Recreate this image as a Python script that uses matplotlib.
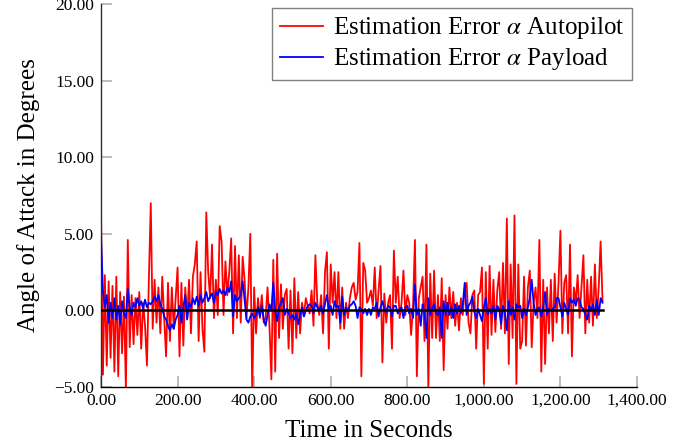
import numpy as np
import matplotlib
matplotlib.use("Agg")
import matplotlib.pyplot as plt
from matplotlib.ticker import FuncFormatter

plt.rcParams['font.family'] = ['Liberation Serif', 'DejaVu Serif']
plt.rcParams['mathtext.fontset'] = 'stix'

step = 5
autopilot_err = [
    # 0-95
    6.4, -4.2, 2.3, -3.6, 1.9, -3.1, 1.6, -4.0, 2.2, -4.3, 1.2, -2.8, 0.9, -5.2, 4.6, -2.4, 1.0, -2.2, 0.8, -1.6,
    # 100-195
    1.2, -2.5, 0.5, -1.0, -3.6, 2.0, 7.0, -1.2, 2.0, -0.8, 1.5, -1.5, 2.2, -0.5, -3.0, 1.8, -2.0, 1.5, -1.2, 0.8,
    # 200-295
    2.8, -3.0, 1.8, -2.3, 1.5, -0.5, 2.0, -1.5, 2.2, 3.0, 4.5, -2.0, 2.5, -1.2, -2.7, 6.4, 2.5, 0.8, 4.3, -0.5,
    # 300-395
    2.0, -0.3, 5.5, 4.5, -0.3, 3.2, 1.0, 2.5, 4.7, -1.5, 4.2, -0.5, 3.6, -0.8, 3.5, 2.0, -0.5, 1.5, 5.0, -5.3,
    # 400-495
    1.5, -1.5, 0.8, -0.5, 1.0, -0.8, -0.5, 1.5, -1.0, -4.5, 3.3, -4.0, 3.7, -1.8, 1.7, -1.2, 1.0, 1.4, -2.5, 1.3,
    # 500-595
    -2.8, 2.1, -1.8, 1.2, -1.5, 0.5, -0.3, 0.8, 0.3, -0.2, 1.3, -1.0, 3.6, 0.5, -0.3, 1.0, -1.5, 2.5, 3.8, -2.5,
    # 600-695
    3.0, 0.5, 2.5, -0.5, 2.5, -1.2, 1.5, -1.2, 0.5, -0.5, 0.8, 1.5, 1.8, 0.7, 1.2, 4.4, -4.3, 3.1, 2.6, 0.5,
    # 700-795
    0.8, 1.3, 0.3, 2.8, -0.5, 1.3, 2.9, -3.4, 1.1, -0.8, 0.5, 1.0, -2.5, 3.9, 0.5, 2.2, -0.5, 0.5, 2.6, -0.3,
    # 800-895
    1.0, 0.5, -1.6, 0.3, 4.6, -4.3, 0.8, 1.5, 2.2, -2.0, 4.3, -5.2, 2.4, -1.8, 2.6, -1.8, 1.0, -2.0, 2.1, -3.9,
    # 900-995
    1.0, -1.2, 1.5, -0.5, 1.2, -1.0, 0.5, -1.3, 0.8, -0.3, 1.5, 1.8, -0.8, -1.5, 1.0, 1.3, -2.5, 1.0, 1.2, 2.8,
    # 1000-1095
    -4.8, 2.5, -2.5, 2.9, -1.6, 2.0, -1.4, 1.3, 2.5, -1.2, 3.1, -1.5, 6.0, -3.5, 3.0, -1.8, 6.2, -4.8, 3.0, -2.5,
    # 1100-1195
    -2.0, 2.2, -2.3, 1.5, 2.6, -2.4, 0.5, 1.5, -0.5, 4.6, -4.0, 2.0, -3.5, 1.5, -1.5, 2.0, -2.0, 2.4, -0.8, 1.8,
    # 1200-1310
    5.2, -1.5, 1.8, 2.3, -1.5, 4.3, -3.0, 1.5, 0.5, 2.3, -0.5, 1.5, 3.6, -1.5, 2.0, -0.8, 2.2, -1.0, 3.0, -0.5,
    1.5, 4.5, 0.6,
]
payload_err = [
    # 0-95
    4.8, 1.3, 0.2, 1.0, -0.8, 0.5, -0.5, 0.8, -0.6, 0.3, -0.9, 0.6, -0.2, -0.5, 1.4, 0.2, -0.3, 0.5, 0.2, 0.8,
    # 100-195
    0.3, 0.6, 0.1, 0.7, 0.2, 0.5, 0.4, 0.6, 0.9, 0.6, 1.0, 0.4, 0.1, -0.4, -0.6, -1.0, -1.3, -0.9, -1.2, -0.6,
    # 200-295
    -0.3, 0.3, -0.8, 0.2, 1.0, -0.6, 0.5, 0.2, 0.8, 0.4, 0.9, 0.3, 1.0, 0.5, 0.8, 1.2, 0.6, 0.9, 1.1, 0.5,
    # 300-395
    1.2, 1.0, 1.4, 1.1, 1.3, 1.0, 1.5, 1.2, 1.9, -0.4, 1.0, 0.6, 0.8, 1.0, 1.9, 0.7, -0.6, -0.8, -0.4, -0.2,
    # 400-495
    -0.5, -0.3, 0.2, -0.4, 0.3, -0.6, -1.0, -0.3, 0.4, 0.0, 1.8, 0.0, -0.7, 0.2, 0.5, 0.8, -0.3, 0.1, -0.2, -0.5,
    # 500-595
    -0.3, -0.6, -0.2, -0.9, -0.3, 0.2, -0.4, 0.0, 0.3, 0.4, 0.3, -0.2, 0.5, 0.2, 0.0, 0.3, -0.2, 0.4, 1.0, 0.1,
    # 600-695
    0.3, -0.3, 0.6, 0.2, 0.3, -0.8, 0.9, -0.3, 0.2, 0.0, 0.3, 0.4, 0.6, 0.3, -0.5, 0.2, 0.1, -0.2, 0.1, -0.3,
    # 700-795
    0.1, -0.3, 0.2, 0.1, 0.5, -0.4, 0.2, 0.6, 0.1, -0.1, 0.3, 0.2, -0.4, 0.3, 0.3, -0.2, 0.1, 0.2, -0.5, 0.2,
    # 800-895
    0.3, -0.2, 0.1, -0.5, 1.7, -0.3, 0.1, -1.0, 0.4, -0.2, -1.8, 0.8, -0.3, 0.1, 0.4, -0.2, -0.3, 0.2, -1.8, 0.6,
    # 900-995
    -0.3, 0.5, -0.3, 0.2, -0.5, 0.4, -0.2, 0.3, -0.2, 0.4, 1.8, -0.3, 0.3, 0.5, 0.9, -0.1, -0.5, 0.1, -0.3, -0.7,
    # 1000-1095
    0.2, 0.8, -0.3, 0.1, -0.2, 0.3, -0.6, 0.3, 0.1, -0.9, 0.3, -0.2, -1.3, 0.6, -0.3, 0.2, -0.6, 0.4, 0.2, 0.3,
    # 1100-1195
    -0.5, 0.1, -0.3, 0.2, 0.8, 2.0, 0.5, -0.3, 0.1, 0.2, -0.4, 0.2, 1.2, -0.3, 0.1, 0.0, 0.1, 0.2, 0.8, 0.8,
    # 1200-1310
    0.2, -0.4, 0.5, 0.1, -0.3, 0.8, 0.5, 0.7, 0.3, 0.8, 0.7, 0.2, 0.1, -0.3, -0.6, 0.3, 0.0, 0.4, -0.3, 0.7,
    -0.3, 0.8, 0.5,
]
time_s = [i * step for i in range(len(autopilot_err))]
zero_t = [0, 1310]
zero_v = [0.0, 0.0]

x_ticks = [0, 200, 400, 600, 800, 1000, 1200, 1400]
y_ticks = [-5, 0, 5, 10, 15, 20]

fig = plt.figure(figsize=(6.97, 4.48), dpi=100)
ax = fig.add_axes([101/697, 1 - 387/448, 536/697, 383/448])

ax.plot(time_s, autopilot_err, color='#ff0000', lw=1.3,
        label=r'Estimation Error $\alpha$ Autopilot', zorder=2)
ax.plot(time_s, payload_err, color='#0000ff', lw=1.3,
        label=r'Estimation Error $\alpha$ Payload', zorder=3)
ax.plot(zero_t, zero_v, color='black', lw=1.8, zorder=4)

ax.set_xlim(0, 1400)
ax.set_ylim(-5, 20)
ax.set_xticks(x_ticks)
ax.set_yticks(y_ticks)

def fmt(v, pos):
    return '{:,.2f}'.format(v).replace('-', '\u2212')

ax.xaxis.set_major_formatter(FuncFormatter(fmt))
ax.yaxis.set_major_formatter(FuncFormatter(fmt))
ax.tick_params(direction='in', length=8, width=1.2, color='#b0b0b0',
               labelsize=12.5, pad=4)
ax.tick_params(axis='y', pad=5)

for s in ['top', 'right']:
    ax.spines[s].set_visible(False)
ax.spines['left'].set_color('#303030')
ax.spines['bottom'].set_color('black')
ax.spines['left'].set_linewidth(1.0)
ax.spines['bottom'].set_linewidth(1.0)

ax.set_xlabel('Time in Seconds', fontsize=18, labelpad=8)
ax.set_ylabel('Angle of Attack in Degrees', fontsize=18, labelpad=10)

leg = ax.legend(loc='upper right', bbox_to_anchor=(0.991, 0.99), borderaxespad=0,
                fontsize=18, fancybox=False, edgecolor='#808080',
                handlelength=1.75, handletextpad=0.4, labelspacing=0.2,
                borderpad=0.3, framealpha=1)
leg.get_frame().set_linewidth(1.0)

fig.savefig('out.png', dpi=100)
